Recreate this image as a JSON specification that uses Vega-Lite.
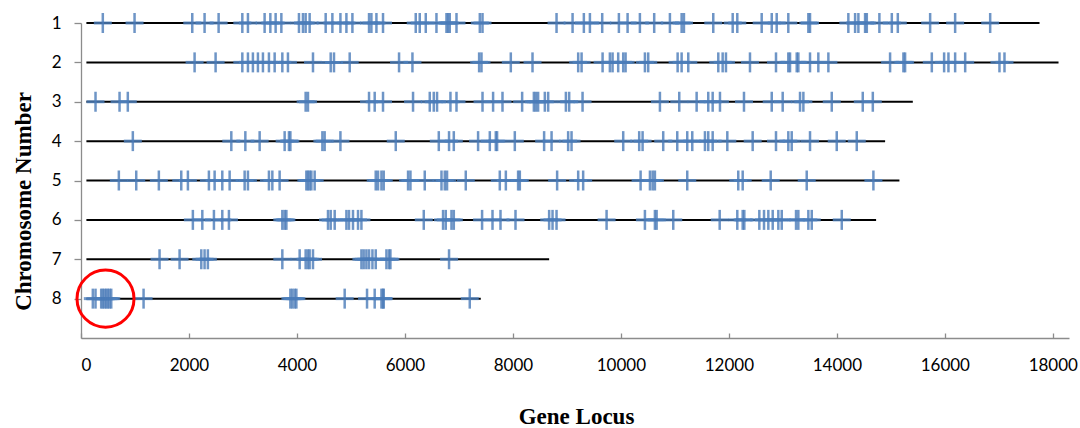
{
  "$schema": "https://vega.github.io/schema/vega-lite/v6.json",
  "width": 988,
  "height": 315,
  "autosize": {"type": "none"},
  "padding": {"left": 81, "top": 23, "right": 11, "bottom": 90},
  "background": "white",
  "config": {
    "view": {"stroke": null},
    "axis": {"labelFont": "Lato", "labelFontSize": 17, "labelColor": "#000000", "titleFont": "Liberation Serif", "titleFontWeight": "bold", "titleFontSize": 23, "titleColor": "#000000", "domainColor": "#8c8c8c", "tickColor": "#8c8c8c", "domainWidth": 1.3, "tickWidth": 1.3, "grid": false}
  },
  "datasets": {
    "loci": [
      {"chr": 1, "pos": [404, 992, 2061, 2289, 2549, 2988, 3092, 3401, 3507, 3605, 3711, 4037, 4111, 4161, 4235, 4532, 4656, 4805, 4916, 5027, 5335, 5379, 5472, 5594, 6200, 6274, 6386, 6584, 6769, 6799, 6830, 6955, 7387, 7437, 8808, 9105, 9314, 9426, 9654, 9963, 10124, 10352, 10617, 10908, 11125, 11168, 11711, 12071, 12156, 12608, 12794, 12886, 13101, 13472, 13503, 14213, 14338, 14399, 14523, 14555, 14788, 15018, 15129, 15728, 16191, 16840]},
      {"chr": 2, "pos": [2104, 2493, 2988, 3092, 3184, 3277, 3370, 3481, 3587, 3729, 3833, 4297, 4625, 4686, 4977, 5891, 6139, 7374, 7418, 7961, 8363, 9209, 9272, 9661, 9796, 9846, 9950, 10043, 10087, 10445, 10506, 11051, 11125, 11248, 11804, 11885, 11946, 12391, 12873, 13101, 13133, 13257, 13287, 13503, 13657, 13843, 14986, 15233, 15264, 15759, 15987, 16067, 16191, 16377, 17012, 17105]},
      {"chr": 3, "pos": [269, 714, 867, 4161, 4204, 5335, 5440, 5594, 6150, 6460, 6534, 6595, 6843, 6955, 7437, 7633, 7807, 8171, 8388, 8425, 8467, 8591, 8653, 8981, 9042, 9290, 10723, 11081, 11403, 11618, 11700, 11835, 12280, 12794, 12997, 13318, 13380, 13906, 14480, 14666]},
      {"chr": 4, "pos": [960, 2784, 3044, 3309, 3772, 3852, 3878, 4471, 4513, 4805, 5830, 6627, 6817, 6905, 7355, 7572, 7683, 7707, 8035, 8578, 8716, 9023, 9086, 10043, 10339, 10402, 10784, 11044, 11229, 11322, 11557, 11618, 11700, 11971, 12441, 12873, 13101, 13164, 13503, 13998, 14369]},
      {"chr": 5, "pos": [701, 1023, 1442, 1857, 1980, 2369, 2475, 2617, 2753, 3031, 3092, 3481, 3544, 3679, 4174, 4204, 4235, 4267, 4328, 5459, 5502, 5565, 5607, 6058, 6102, 6367, 6677, 6738, 6780, 7127, 7757, 7869, 8096, 8128, 8819, 9209, 9301, 10365, 10538, 10588, 10630, 11229, 12174, 12256, 12775, 13442, 14677]},
      {"chr": 6, "pos": [2072, 2247, 2462, 2617, 2740, 3729, 3772, 3804, 4575, 4625, 4699, 4916, 4964, 5038, 5131, 5194, 6349, 6706, 6756, 6862, 6905, 7429, 7622, 7770, 8048, 8671, 8734, 8808, 9735, 10445, 10630, 10662, 10970, 11830, 12156, 12256, 12286, 12564, 12651, 12731, 12812, 12916, 12979, 13244, 13287, 13472, 13535, 14091]},
      {"chr": 7, "pos": [1455, 1826, 2228, 2289, 2350, 3729, 4050, 4161, 4204, 4235, 4297, 5194, 5236, 5286, 5335, 5398, 5459, 5657, 5705, 5731, 6817]},
      {"chr": 8, "pos": [219, 269, 374, 404, 436, 467, 497, 528, 560, 1159, 3878, 3915, 3957, 3989, 4884, 5298, 5440, 5565, 5594, 5607, 7201]}
    ],
    "chroms": [
      {"chr": 1, "start": 100, "end": 17754},
      {"chr": 2, "start": 100, "end": 18106},
      {"chr": 3, "start": 100, "end": 15407},
      {"chr": 4, "start": 100, "end": 14894},
      {"chr": 5, "start": 100, "end": 15159},
      {"chr": 6, "start": 100, "end": 14727},
      {"chr": 7, "start": 100, "end": 8671},
      {"chr": 8, "start": 100, "end": 7405}
    ],
    "highlight": [{"chr": 8, "pos": 454}]
  },
  "layer": [
    {
      "data": {"name": "chroms"},
      "mark": {"type": "rule", "color": "#000000", "strokeWidth": 2},
      "encoding": {
        "x": {"field": "start", "type": "quantitative", "scale": {"domain": [0, 18300], "nice": false, "zero": false},
          "axis": {"title": "Gene Locus", "values": [0, 2000, 4000, 6000, 8000, 10000, 12000, 14000, 16000, 18000], "format": "d", "tickSize": -5, "labelPadding": 32, "labelBaseline": "middle", "titleX": 495, "titleY": 85, "titleBaseline": "alphabetic", "titleAlign": "center", "titleAnchor": null}},
        "x2": {"field": "end"},
        "y": {"field": "chr", "type": "quantitative", "scale": {"domain": [1, 9], "reverse": true, "nice": false, "zero": false},
          "axis": {"title": "Chromosome Number", "values": [1, 2, 3, 4, 5, 6, 7, 8], "format": "d", "tickSize": 7, "labelPadding": 13, "titleAngle": 270, "titleX": -51, "titleY": 178, "titleBaseline": "alphabetic", "titleAlign": "center"}}
      }
    },
    {
      "data": {"name": "loci"},
      "transform": [{"flatten": ["pos"]}],
      "mark": {"type": "tick", "orient": "horizontal", "size": 18, "thickness": 3, "color": "#4F81BD", "opacity": 0.8},
      "encoding": {
        "x": {"field": "pos", "type": "quantitative"},
        "y": {"field": "chr", "type": "quantitative"}
      }
    },
    {
      "data": {"name": "loci"},
      "transform": [{"flatten": ["pos"]}],
      "mark": {"type": "tick", "orient": "vertical", "size": 20, "thickness": 2.5, "color": "#4a7ab8", "opacity": 0.8},
      "encoding": {
        "x": {"field": "pos", "type": "quantitative"},
        "y": {"field": "chr", "type": "quantitative"}
      }
    },
    {
      "data": {"name": "highlight"},
      "mark": {"type": "point", "shape": "circle", "filled": false, "color": "#ff0000", "strokeWidth": 3, "size": 3250, "opacity": 1},
      "encoding": {
        "x": {"field": "pos", "type": "quantitative"},
        "y": {"field": "chr", "type": "quantitative"}
      }
    }
  ]
}
